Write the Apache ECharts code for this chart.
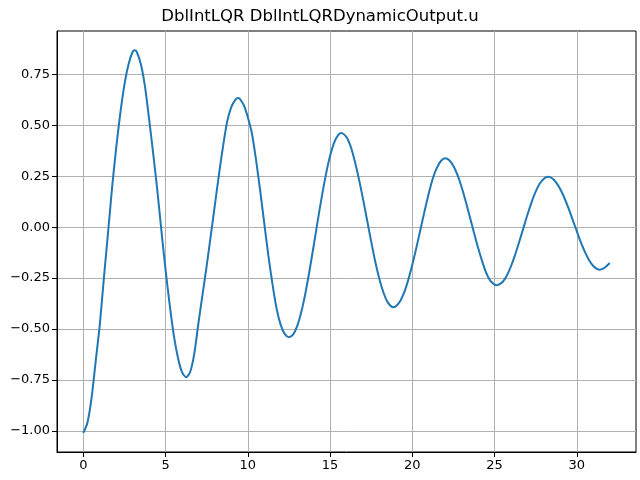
<!DOCTYPE html>
<html>
<head>
<meta charset="utf-8">
<script src="https://cdn.jsdelivr.net/npm/echarts@6/dist/echarts.min.js"></script>
<style>
  html, body { margin: 0; padding: 0; background: #fff; }
  #chart { width: 640px; height: 480px; }
</style>
</head>
<body>
<div id="chart"></div>
<script>
// sample times (s) and the control output u
var times = [
    0, 0.25, 0.5, 0.75, 1, 1.25, 1.5, 1.75, 2, 2.25, 2.5, 2.75, 3, 3.12, 3.25, 3.5, 3.75,
    4, 4.25, 4.5, 4.75, 5, 5.25, 5.5, 5.75, 6, 6.25, 6.5, 6.75, 7, 7.25, 7.5, 7.75,
    8, 8.25, 8.5, 8.75, 9, 9.25, 9.41, 9.5, 9.75, 10, 10.25, 10.5, 10.75, 11, 11.25, 11.5, 11.75,
    12, 12.25, 12.5, 12.75, 13, 13.25, 13.5, 13.75, 14, 14.25, 14.5, 14.75, 15, 15.25, 15.5, 15.69,
    16, 16.25, 16.5, 16.75, 17, 17.25, 17.5, 17.75, 18, 18.25, 18.5, 18.84, 19, 19.25, 19.5, 19.75,
    20, 20.25, 20.5, 20.75, 21, 21.25, 21.5, 21.75, 22, 22.25, 22.5, 22.75, 23, 23.25, 23.5, 23.75,
    24, 24.25, 24.5, 24.75, 25, 25.12, 25.25, 25.5, 25.75, 26, 26.25, 26.5, 26.75, 27, 27.25, 27.5, 27.75,
    28, 28.25, 28.5, 28.75, 29, 29.25, 29.5, 29.75, 30, 30.25, 30.5, 30.75, 31, 31.25, 31.4, 31.6, 31.8,
    32
];
var uValues = [
    -1.01, -0.96, -0.84, -0.66, -0.48, -0.25, -0.03, 0.195, 0.39, 0.56, 0.70, 0.80, 0.861, 0.868, 0.86, 0.80, 0.69,
    0.53, 0.36, 0.18, -0.02, -0.21, -0.38, -0.53, -0.64, -0.712, -0.737, -0.71, -0.62, -0.47, -0.33, -0.19, -0.04,
    0.11, 0.26, 0.40, 0.52, 0.59, 0.626, 0.634, 0.631, 0.60, 0.54, 0.46, 0.33, 0.18, 0.02, -0.14, -0.28, -0.40,
    -0.48, -0.525, -0.54, -0.528, -0.486, -0.417, -0.325, -0.214, -0.094, 0.031, 0.150, 0.259, 0.349, 0.415, 0.453, 0.462,
    0.442, 0.397, 0.325, 0.238, 0.14, 0.035, -0.07, -0.17, -0.255, -0.322, -0.368, -0.393, -0.388, -0.365, -0.322, -0.26,
    -0.185, -0.10, -0.01, 0.08, 0.165, 0.24, 0.292, 0.326, 0.338, 0.328, 0.300, 0.255, 0.196, 0.126, 0.050, -0.027,
    -0.101, -0.168, -0.226, -0.264, -0.282, -0.285, -0.282, -0.268, -0.237, -0.192, -0.136, -0.072, -0.006, 0.061, 0.122, 0.174, 0.214,
    0.238, 0.247, 0.240, 0.219, 0.186, 0.143, 0.092, 0.036, -0.020, -0.075, -0.123, -0.163, -0.191, -0.206, -0.209, -0.204, -0.192,
    -0.176
];
var xTicks = [0, 5, 10, 15, 20, 25, 30];
var yTicks = [-1, -0.75, -0.5, -0.25, 0, 0.25, 0.5, 0.75];
var titleText = 'DblIntLQR DblIntLQRDynamicOutput.u';

var seriesData = [];
for (var i = 0; i < times.length; i++) {
    seriesData.push([times[i], uValues[i]]);
}

function fmtY(v) {
    var s = Math.abs(v).toFixed(2);
    return v < 0 ? '\u2212' + s : s;
}

var font = 'DejaVu Sans';
var option = {
    animation: false,
    backgroundColor: '#fff',
    title: {
        text: titleText,
        left: 'center',
        top: 3,
        textStyle: {fontFamily: font, fontSize: 16.5, fontWeight: 'normal', color: '#000'}
    },
    grid: {
        left: 57,
        right: 4,
        top: 31,
        bottom: 28,
        show: true,
        borderColor: '#000',
        borderWidth: 1,
        containLabel: false
    },
    xAxis: {
        type: 'value',
        min: -1.6,
        max: 33.6,
        axisLine: {show: true, onZero: false, lineStyle: {color: '#000', width: 1}},
        axisTick: {show: true, length: 5, customValues: xTicks, lineStyle: {color: '#000'}},
        axisLabel: {
            customValues: xTicks,
            fontFamily: font, fontSize: 13, color: '#000', margin: 7,
            formatter: function (v) { return String(v); }
        },
        splitLine: {show: true, lineStyle: {color: '#b0b0b0', width: 1}}
    },
    yAxis: {
        type: 'value',
        min: -1.104,
        max: 0.963,
        axisLine: {show: true, onZero: false, lineStyle: {color: '#000', width: 1}},
        axisTick: {show: true, length: 5, customValues: yTicks, lineStyle: {color: '#000'}},
        axisLabel: {
            customValues: yTicks,
            fontFamily: font, fontSize: 13, color: '#000', margin: 7,
            formatter: fmtY
        },
        splitLine: {show: true, lineStyle: {color: '#b0b0b0', width: 1}}
    },
    series: [{
        type: 'line',
        data: seriesData,
        showSymbol: false,
        smooth: 0.25,
        lineStyle: {color: '#1f77b4', width: 2},
        itemStyle: {color: '#1f77b4'}
    }]
};

var myChart = echarts.init(document.getElementById('chart'));
myChart.setOption(option);
</script>
</body>
</html>
